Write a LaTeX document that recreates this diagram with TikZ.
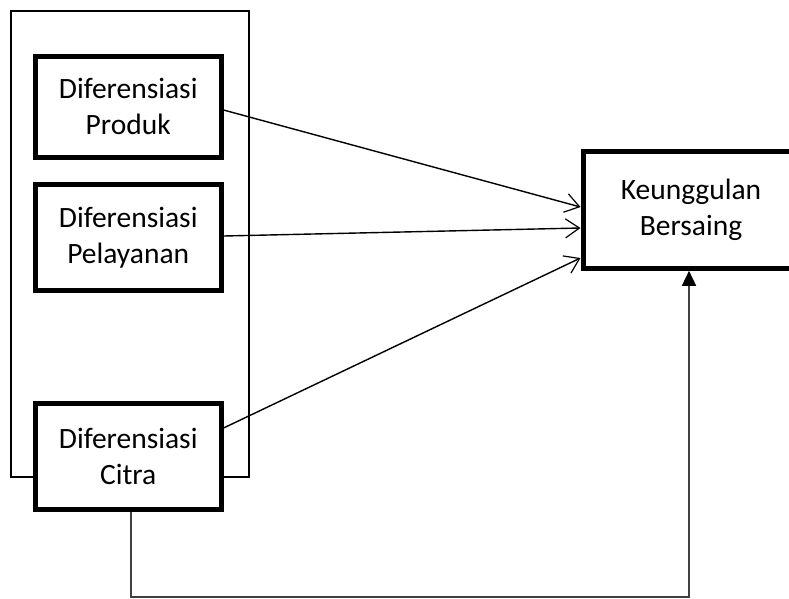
\documentclass[tikz,border=0pt]{standalone}
\usepackage{fontspec}
\setmainfont{Carlito}
\usetikzlibrary{arrows.meta,calc}
\begin{document}
\begin{tikzpicture}[x=1pt,y=-1pt,
  varbox/.style={draw=black,line width=5pt,fill=white,align=center,inner sep=0pt,
    minimum width=185.7pt,minimum height=101pt,
    font=\fontsize{29.5}{36}\selectfont},
  groupbox/.style={draw=black,line width=2pt,inner sep=0pt,minimum width=237.2pt,minimum height=465.8pt},
  conn/.style={line width=1.4pt,-{Straight Barb[length=14pt,width=19pt,line width=1.2pt]}},
  feed/.style={draw=black!75,line width=1.5pt,-{Triangle[length=15pt,width=14pt,color=black]}}]
\useasboundingbox (0,0) rectangle (789,598);
\node[groupbox] (g) at (129.9,243.6) {};
\node[varbox] (p) at (128.2,106.5) {Diferensiasi\\Produk};
\node[varbox,minimum height=105.5pt] (s) at (128.2,237.25) {Diferensiasi\\Pelayanan};
\node[varbox,minimum height=106pt] (c) at (128.2,456) {Diferensiasi\\Citra};
\node[varbox,minimum width=216pt,minimum height=116.6pt] (k) at (691,210) {Keunggulan\\Bersaing};
\draw[conn] ([yshift=-3.5pt]p.east) -- ([yshift=3pt]k.west);
\draw[conn] ([yshift=1.25pt]s.east) -- ([yshift=-18pt]k.west);
\draw[conn] ([yshift=28pt]c.east) -- ([yshift=-48pt]k.west);
\coordinate (b1) at (131,597);
\coordinate (b2) at (689,597);
\draw[feed] (c.south -| b1) -- (b1) -- (b2) -- (b2 |- k.south);
\end{tikzpicture}
\end{document}
